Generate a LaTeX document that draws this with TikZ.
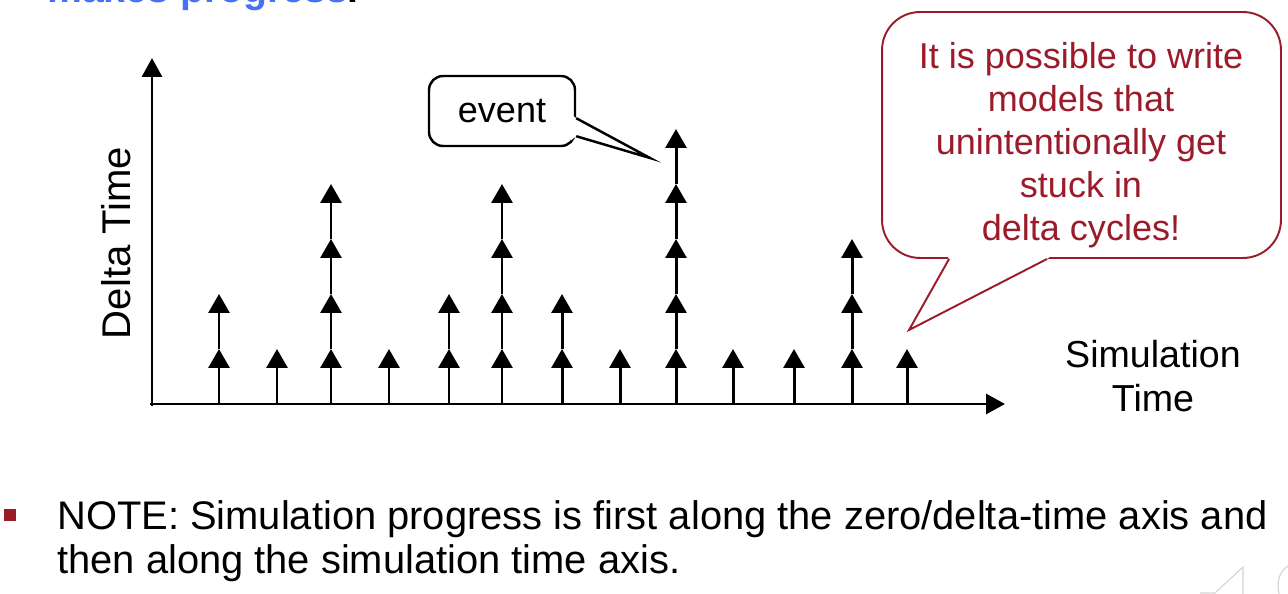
\documentclass[tikz,border=0pt]{standalone}
\usepackage{fontspec}
\setmainfont{Liberation Sans}
\usepackage{tikz}
\usetikzlibrary{arrows.meta}
\usetikzlibrary{calc}
\definecolor{slidered}{RGB}{155,27,42}
\definecolor{slideblue}{RGB}{72,112,245}

\begin{document}
\begin{tikzpicture}[x=0.02cm,y=-0.02cm]
\tikzstyle{axis}=[line width=1.7pt,-{Triangle[width=0.4cm,length=0.38cm]}]
\tikzstyle{delta}=[line width=1.7pt,-{Triangle[width=0.42cm,length=0.38cm]}]
\tikzstyle{bubble}=[draw,line width=1.4pt,rounded corners=0.28cm,fill=white,inner sep=0pt]

% SLIDE AREA
\useasboundingbox (0,0) rectangle (1288,594);
\clip (0,0) rectangle (1288,594);

% TITLE LINE (CUT OFF AT THE TOP)
\node (title) [anchor=base west,inner sep=0pt,font=\fontsize{22.3}{26}\selectfont\bfseries] at (47,3) {\textcolor{slideblue}{makes progress}.};

% AXES
\coordinate (origin) at (152,404);
\coordinate (ytop) at (152,58);
\coordinate (xend) at (1005,404);
\draw [axis] ($(origin)+(0,2)$) -- (ytop);
\draw [axis] ($(origin)+(-2,0)$) -- (xend);

% DELTA CYCLES PER TIME STEP
\foreach \x/\n in {219/2,277/1,331/4,389/1,449/2,502/4,562/2,620/1,676/5,733/1,794/1,852/3,907/1}
  \foreach \k in {1,...,\n}
    \draw [delta] (\x,{404-55*(\k-1)}) -- (\x,{404-55*\k});

% AXIS LABELS
\node (dtime) [rotate=90,font=\fontsize{22.8}{26}\selectfont] at (116,243) {Delta Time};
\node (stime) [anchor=north,align=center,inner sep=0pt,font=\fontsize{21.4}{25}\selectfont] at (1153,340) {Simulation\\Time};

% EVENT CALLOUT
\node (event) [bubble,minimum width=2.92cm,minimum height=1.4cm,font=\fontsize{20.5}{24}\selectfont] at (502,111) {event};
\coordinate (eventtip) at (650,158);
\fill [white] ($(event.south east)+(-5,-33)$) -- ($(event.south east)+(0,-29)$) -- (eventtip) -- ($(event.south east)+(0,-11)$) -- ($(event.south east)+(-5,-7)$) -- cycle;
\draw [line width=1.4pt] ($(event.south east)+(0,-29)$) -- (eventtip) -- ($(event.south east)+(0,-11)$);

% WARNING CALLOUT
\node (stuckbox) [bubble,draw=slidered,line width=1.1pt,rounded corners=0.76cm,minimum width=7.98cm,minimum height=4.92cm] at (1081.5,135) {};
\coordinate (stucktip) at (909,330);
\fill [white] ($(stuckbox.south west)+(64,-6)$) -- ($(stuckbox.south west)+(68,0)$) -- (stucktip) -- ($(stuckbox.south west)+(166,0)$) -- ($(stuckbox.south west)+(174,-6)$) -- cycle;
\draw [slidered,line width=1.1pt] ($(stuckbox.south west)+(68,0)$) -- (stucktip) -- ($(stuckbox.south west)+(166,0)$);
\node (stuck) [text=slidered,align=center,font=\fontsize{20.5}{24.5}\selectfont] at (1081,145) {It is possible to write\\models that\\unintentionally get\\stuck in\\delta cycles!};

% NOTE BELOW
\node (bullet) [fill=slidered,minimum size=0.24cm,inner sep=0pt] at (10,515) {};
\node (note) [anchor=north west,align=left,inner sep=0pt,font=\fontsize{22.7}{25}\selectfont] at (57,500.5) {NOTE: Simulation progress is first along the zero/delta-time axis and\\then along the simulation time axis.};

% PAGE CURL ICON
\draw [gray!35,line width=0.6pt] (1200,593) -- (1215,593) -- (1243,567) -- (1243,594);
\draw [gray!35,line width=0.6pt] (1288,566) .. controls (1281,571) and (1276,578) .. (1279,594);
\end{tikzpicture}
\end{document}
